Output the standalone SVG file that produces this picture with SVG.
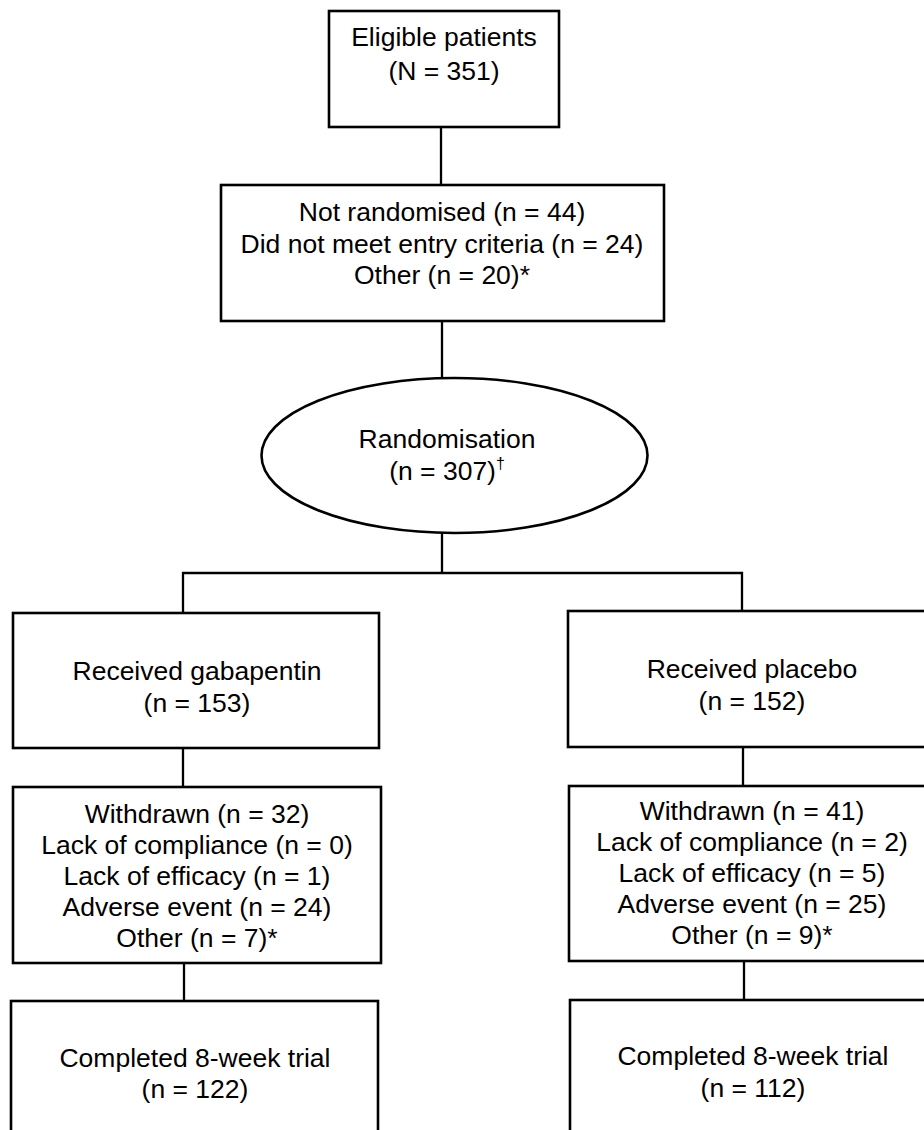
<svg xmlns="http://www.w3.org/2000/svg" width="924" height="1130" viewBox="0 0 924 1130">
<style>
.box{fill:#fff;stroke:#000;stroke-width:2.6}
.ln{fill:none;stroke:#000;stroke-width:2.3}
text{font-family:"Liberation Sans",Arial,sans-serif;font-size:26.5px;fill:#000;text-anchor:middle}
.sup{font-size:16px}
</style>
<rect width="924" height="1130" fill="#fff"/>
<g id="connectors">
<line class="ln" x1="441" y1="127" x2="441" y2="185"/>
<line class="ln" x1="442" y1="321" x2="442" y2="378"/>
<line class="ln" x1="442" y1="533" x2="442" y2="573"/>
<polyline class="ln" points="183,613 183,573 742,573 742,611"/>
<line class="ln" x1="183" y1="748" x2="183" y2="787"/>
<line class="ln" x1="743" y1="747" x2="743" y2="786"/>
<line class="ln" x1="184" y1="963" x2="184" y2="1001"/>
<line class="ln" x1="744" y1="961" x2="744" y2="1000"/>
</g>
<g id="eligible">
<rect class="box" x="329" y="11" width="230" height="116"/>
<text x="444" y="46">Eligible patients</text>
<text x="444" y="80">(N = 351)</text>
</g>
<g id="not-randomised">
<rect class="box" x="221" y="185" width="443" height="136"/>
<text x="442" y="221">Not randomised (n = 44)</text>
<text x="442" y="253">Did not meet entry criteria (n = 24)</text>
<text x="442" y="284">Other (n = 20)*</text>
</g>
<g id="randomisation">
<ellipse class="box" cx="454.5" cy="455.5" rx="193" ry="77.5"/>
<text x="447" y="448">Randomisation</text>
<text x="447" y="480">(n = 307)<tspan class="sup" dy="-11">†</tspan></text>
</g>
<g id="gabapentin">
<rect class="box" x="13" y="613" width="366" height="135"/>
<text x="197" y="680">Received gabapentin</text>
<text x="197" y="712">(n = 153)</text>
</g>
<g id="placebo">
<rect class="box" x="568" y="611" width="370" height="136"/>
<text x="752" y="678">Received placebo</text>
<text x="752" y="710">(n = 152)</text>
</g>
<g id="withdrawn-gabapentin">
<rect class="box" x="13" y="787" width="368" height="176"/>
<text x="197" y="823">Withdrawn (n = 32)</text>
<text x="197" y="854">Lack of compliance (n = 0)</text>
<text x="197" y="885">Lack of efficacy (n = 1)</text>
<text x="197" y="916">Adverse event (n = 24)</text>
<text x="197" y="947">Other (n = 7)*</text>
</g>
<g id="withdrawn-placebo">
<rect class="box" x="569" y="786" width="370" height="175"/>
<text x="752" y="820">Withdrawn (n = 41)</text>
<text x="752" y="851">Lack of compliance (n = 2)</text>
<text x="752" y="882">Lack of efficacy (n = 5)</text>
<text x="752" y="913">Adverse event (n = 25)</text>
<text x="752" y="944">Other (n = 9)*</text>
</g>
<g id="completed-gabapentin">
<rect class="box" x="11" y="1001" width="367" height="150"/>
<text x="195" y="1067">Completed 8-week trial</text>
<text x="195" y="1098">(n = 122)</text>
</g>
<g id="completed-placebo">
<rect class="box" x="570" y="1000" width="370" height="150"/>
<text x="753" y="1065">Completed 8-week trial</text>
<text x="753" y="1097">(n = 112)</text>
</g>
</svg>
